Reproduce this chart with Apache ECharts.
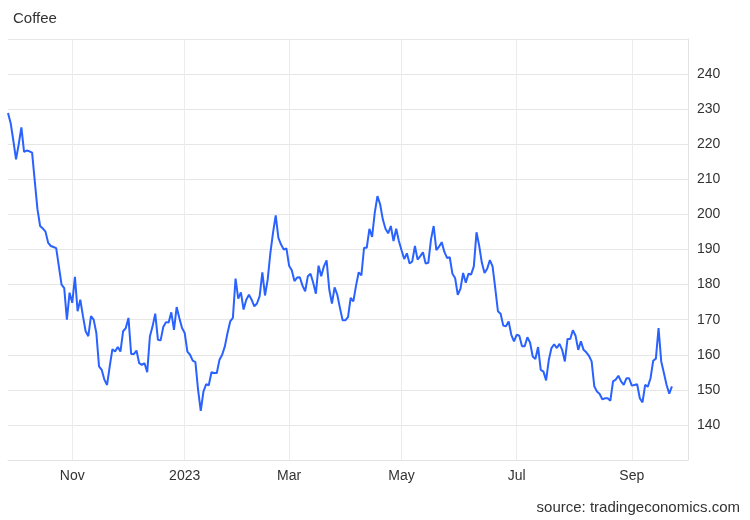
<!DOCTYPE html>
<html>
<head>
<meta charset="utf-8">
<script src="https://cdn.jsdelivr.net/npm/echarts@6/dist/echarts.min.js"></script>
<style>
html,body{margin:0;padding:0;background:#fff;}
#chart{width:750px;height:520px;}
</style>
</head>
<body>
<div id="chart"></div>
<script>
// Trading-day calendar (weekdays minus exchange holidays)
const startDate = '2022-09-28';
const endDate = '2023-10-03';
const holidays = ['2022-11-24','2022-12-26','2023-01-02','2023-01-16','2023-02-20','2023-04-07','2023-05-29','2023-06-19','2023-07-04','2023-09-04'];
const monthNames = ['Jan','Feb','Mar','Apr','May','Jun','Jul','Aug','Sep','Oct','Nov','Dec'];
const labelMonths = [0, 2, 4, 6, 8, 10];

// Coffee price, one value per trading day from startDate
const coffee = [
228.9,226,221,215.7,220,224.8,217.8,218.2,218,217.6,
209.5,201.5,196.7,196,195.1,191.9,191,190.7,190.4,185.2,
180,179,170,177.7,174.8,182.2,172.4,175.7,171,166.7,
165.3,171,170,166.2,156.7,155.7,152.9,151.4,156.7,161.6,
160.9,162.2,160.9,166.7,167.6,170.5,160.2,160.2,161.2,157.6,
157.1,157.6,155,165.2,168.1,171.7,164.3,164.1,167.9,169.3,
169.2,172.1,167.1,173.6,170.5,167.6,166.2,160.9,160,158.3,
157.9,150,144,149.5,151.6,151.3,155,154.8,154.8,158.6,
160,162.4,166.2,169.5,170.5,181.7,176,177.8,172.9,175.7,
177.1,175.7,173.8,174.6,176.7,183.5,176.9,181.4,189,194.8,
199.7,193.3,191.4,190,190.3,185.4,184.1,181,182,182.1,
179.7,178.1,182.4,183.1,180.5,177.4,185.4,182.4,185.2,186.9,
178.6,174.6,179.2,177.1,173.3,169.8,169.8,170.7,176.2,175.2,
179.7,183.5,182.6,190.5,190.5,195.9,193.6,200.5,205.2,202.9,
198.6,195.9,194.6,196.7,192.4,195.9,192.4,189.8,187.3,188.9,
186,186.6,191,187.1,188.1,189.2,186,186.2,192.9,196.7,
189.8,190.8,192.1,189.3,187.6,187.8,183.1,181.9,177.1,178.8,
183.3,180.5,183.1,182.9,185.2,194.9,191.1,186.2,183.3,184.5,
187,185.2,179,172.4,171.7,168.3,168.1,169.5,165.7,163.8,
165.7,165.4,162.4,162.4,165,163.5,159.5,158.8,162.2,155.7,
155.2,152.7,158.5,161.9,163,161.9,163.1,161.4,158.1,164.5,
164.5,167,165.4,161.4,163.8,161.4,160.7,159.7,158.1,151,
149.5,148.8,147.3,147.6,147.6,146.9,152.4,152.9,154,152.4,
151.4,153.3,153.3,151.2,151.4,151.6,147.6,146.4,151.4,150.9,
153.3,158.3,158.9,167.6,158.1,154.8,151.4,148.9,151
];

const yTicks = [140,150,160,170,180,190,200,210,220,230,240];

function pad(n){return n<10?'0'+n:''+n;}
function fmt(d){return d.getUTCFullYear()+'-'+pad(d.getUTCMonth()+1)+'-'+pad(d.getUTCDate());}
const categories = [];
(function(){
  const d = new Date(startDate+'T00:00:00Z');
  const end = new Date(endDate+'T00:00:00Z');
  while (d <= end) {
    const wd = d.getUTCDay();
    const s = fmt(d);
    if (wd !== 0 && wd !== 6 && holidays.indexOf(s) < 0) categories.push(s);
    d.setUTCDate(d.getUTCDate()+1);
  }
})();

function isMarker(index){
  if (index === 0) return false;
  const m = +categories[index].slice(5,7) - 1;
  const pm = +categories[index-1].slice(5,7) - 1;
  return m !== pm && labelMonths.indexOf(m) >= 0;
}

const FONT = 'Arial, "Liberation Sans", sans-serif';
const chart = echarts.init(document.getElementById('chart'));
chart.setOption({
  animation: false,
  backgroundColor: '#ffffff',
  title: [{
    text: 'Coffee',
    left: 13, top: 11, padding: 0,
    textStyle: {fontSize: 15, fontWeight: 'normal', color: '#333', fontFamily: FONT}
  },{
    text: 'source: tradingeconomics.com',
    right: 10, top: 500, padding: 0,
    textStyle: {fontSize: 15, fontWeight: 'normal', color: '#333', fontFamily: FONT}
  }],
  grid: {left: 8, right: 62, top: 39, bottom: 60, containLabel: false},
  xAxis: {
    type: 'category',
    data: categories,
    boundaryGap: false,
    axisLine: {show: true, lineStyle: {color: '#e3e3e3', width: 1}},
    axisTick: {show: false},
    axisLabel: {
      interval: function(index){ return isMarker(index); },
      formatter: function(value){
        const m = +value.slice(5,7) - 1;
        return m === 0 ? value.slice(0,4) : monthNames[m];
      },
      color: '#333', fontSize: 14, margin: 9,
      fontFamily: FONT
    },
    splitLine: {show: true, interval: function(index){ return isMarker(index); }, lineStyle: {color: '#ececec', width: 1}}
  },
  yAxis: {
    type: 'value',
    position: 'right',
    min: 130, max: 250, interval: 10,
    axisLine: {show: true, lineStyle: {color: '#e3e3e3', width: 1}},
    axisTick: {show: false},
    axisLabel: {
      formatter: function(v){ return yTicks.indexOf(v) >= 0 ? String(v) : ''; },
      color: '#333', fontSize: 14, margin: 9,
      fontFamily: FONT
    },
    splitLine: {show: true, lineStyle: {color: '#e6e6e6', width: 1}}
  },
  series: [{
    type: 'line',
    name: 'Coffee',
    data: coffee,
    showSymbol: false,
    symbol: 'none',
    lineStyle: {color: '#2962ff', width: 2},
    itemStyle: {color: '#2962ff'}
  }]
});
</script>
</body>
</html>
